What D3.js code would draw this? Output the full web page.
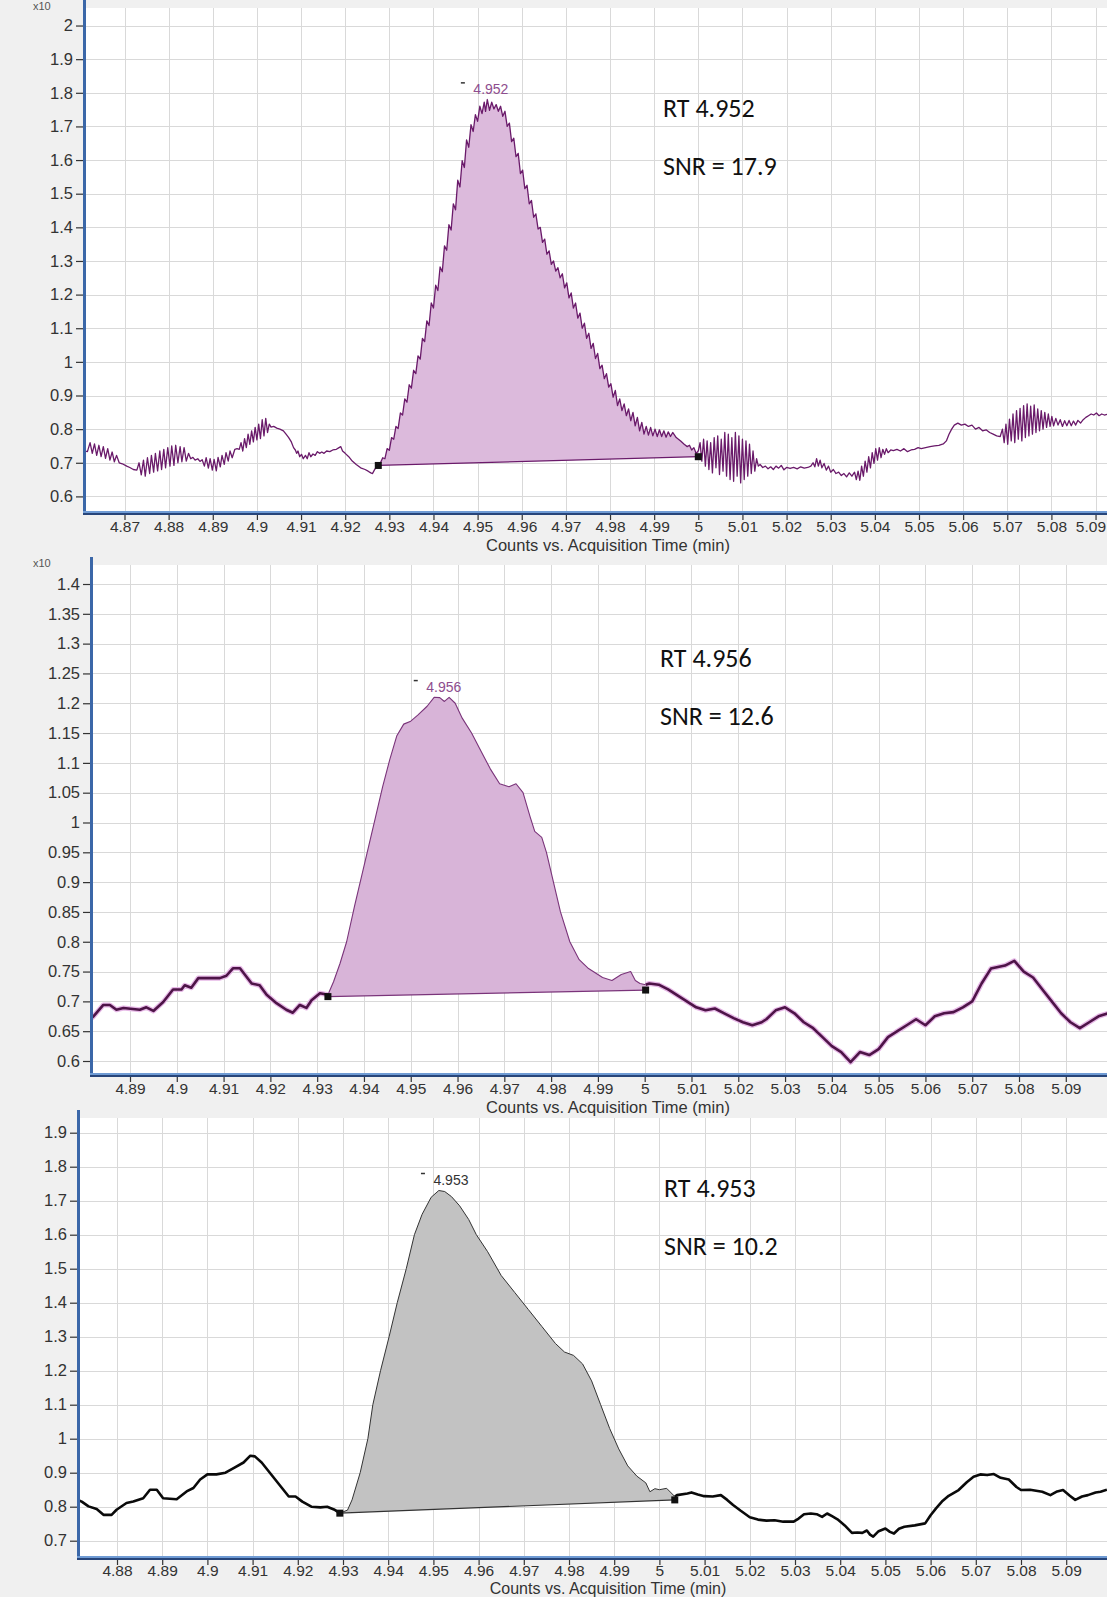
<!DOCTYPE html>
<html><head><meta charset="utf-8">
<script src="https://cdn.jsdelivr.net/npm/d3@7"></script>
<style>
body{margin:0;background:#f0f0f0;}
svg{display:block;}
</style></head>
<body><svg id="c" width="1107" height="1597"></svg>
<script>
// ---------- DATA ----------
const panel1XTicks = [4.87,4.88,4.89,4.9,4.91,4.92,4.93,4.94,4.95,4.96,4.97,4.98,4.99,5,5.01,5.02,5.03,5.04,5.05,5.06,5.07,5.08,5.09];
const panel1YTicks = [0.6,0.7,0.8,0.9,1,1.1,1.2,1.3,1.4,1.5,1.6,1.7,1.8,1.9,2];
const panel2XTicks = [4.89,4.9,4.91,4.92,4.93,4.94,4.95,4.96,4.97,4.98,4.99,5,5.01,5.02,5.03,5.04,5.05,5.06,5.07,5.08,5.09];
const panel2YTicks = [0.6,0.65,0.7,0.75,0.8,0.85,0.9,0.95,1,1.05,1.1,1.15,1.2,1.25,1.3,1.35,1.4];
const panel3XTicks = [4.88,4.89,4.9,4.91,4.92,4.93,4.94,4.95,4.96,4.97,4.98,4.99,5,5.01,5.02,5.03,5.04,5.05,5.06,5.07,5.08,5.09];
const panel3YTicks = [0.7,0.8,0.9,1,1.1,1.2,1.3,1.4,1.5,1.6,1.7,1.8,1.9];

const peakRT = ["4.952","4.956","4.953"];
const peakSNR = ["17.9","12.6","10.2"];
const peakApex = [[4.9521,1.779],[4.9562,1.2095],[4.9530,1.730]];
const baselineStart = [[4.9275,0.692],[4.9323,0.708],[4.9293,0.781]];
const baselineEnd = [[5.0000,0.718],[5.0002,0.719],[5.0034,0.820]];
const axisTitle = "Counts vs. Acquisition Time (min)";

const panel1Trace = [
[4.8610,0.735],[4.8616,0.733],[4.8622,0.760],[4.8627,0.728],[4.8632,0.756],[4.8637,0.722],[4.8642,0.752],[4.8647,0.718],[4.8652,0.748],[4.8657,0.713],[4.8662,0.742],[4.8667,0.708],[4.8672,0.732],[4.8677,0.703],[4.8682,0.722],[4.8688,0.700],[4.8695,0.697],[4.8705,0.690],[4.8712,0.686],[4.8720,0.680],[4.8728,0.678],
[4.8733,0.700],[4.8738,0.664],[4.8743,0.708],[4.8747,0.660],[4.8752,0.715],[4.8757,0.668],[4.8761,0.722],[4.8766,0.672],[4.8770,0.728],[4.8775,0.676],[4.8780,0.735],[4.8784,0.680],[4.8789,0.740],[4.8793,0.685],[4.8798,0.745],[4.8803,0.690],[4.8807,0.750],[4.8812,0.692],[4.8816,0.752],[4.8821,0.700],[4.8826,0.748],[4.8830,0.703],[4.8835,0.745],[4.8840,0.705],[4.8845,0.728],[4.8850,0.712],
[4.8855,0.716],[4.8860,0.708],[4.8866,0.712],[4.8871,0.704],[4.8876,0.709],
[4.8881,0.690],[4.8885,0.715],[4.8890,0.684],[4.8894,0.712],[4.8899,0.678],[4.8903,0.710],[4.8908,0.676],[4.8912,0.716],[4.8917,0.688],[4.8921,0.722],[4.8926,0.695],[4.8930,0.730],[4.8935,0.705],[4.8939,0.735],[4.8944,0.715],
[4.8950,0.740],[4.8955,0.742],[4.8960,0.740],[4.8964,0.760],[4.8968,0.735],[4.8972,0.772],[4.8976,0.745],[4.8980,0.785],[4.8984,0.755],[4.8988,0.795],[4.8992,0.762],[4.8996,0.805],[4.9000,0.768],[4.9004,0.815],[4.9008,0.772],[4.9012,0.828],[4.9016,0.780],[4.9020,0.832],[4.9024,0.790],[4.9028,0.815],[4.9032,0.806],[4.9038,0.808],
[4.9045,0.803],[4.9052,0.800],[4.9060,0.795],[4.9066,0.785],[4.9072,0.775],[4.9078,0.762],[4.9083,0.745],[4.9087,0.738],[4.9090,0.728],[4.9093,0.735],[4.9097,0.718],[4.9101,0.725],[4.9105,0.712],[4.9110,0.722],[4.9114,0.712],[4.9118,0.730],[4.9122,0.718],[4.9127,0.726],[4.9132,0.722],[4.9137,0.733],[4.9142,0.728],[4.9147,0.732],[4.9152,0.728],[4.9158,0.735],[4.9165,0.733],[4.9172,0.738],[4.9180,0.740],[4.9186,0.745],[4.9190,0.748],[4.9194,0.735],[4.9200,0.728],[4.9208,0.718],[4.9216,0.705],[4.9225,0.695],[4.9235,0.685],[4.9245,0.680],[4.9252,0.675],[4.9258,0.670],[4.9262,0.668],[4.9266,0.678],[4.9270,0.686],[4.9275,0.692],
[4.9280,0.700],[4.9285,0.715],[4.9290,0.712],[4.9295,0.742],[4.9300,0.737],[4.9305,0.775],[4.9310,0.770],[4.9315,0.808],[4.9320,0.802],[4.9325,0.848],[4.9330,0.842],[4.9335,0.890],[4.9340,0.880],[4.9345,0.932],[4.9350,0.922],[4.9355,0.975],[4.9360,0.965],[4.9365,1.018],[4.9370,1.008],[4.9375,1.070],[4.9380,1.060],[4.9385,1.122],[4.9390,1.108],[4.9395,1.175],[4.9400,1.160],[4.9405,1.228],[4.9410,1.212],[4.9415,1.282],[4.9420,1.268],[4.9425,1.345],[4.9430,1.332],[4.9435,1.408],[4.9440,1.392],[4.9445,1.470],[4.9450,1.452],[4.9455,1.540],[4.9460,1.520],[4.9465,1.598],[4.9470,1.578],[4.9475,1.660],[4.9480,1.638],[4.9485,1.705],[4.9490,1.685],[4.9495,1.735],[4.9500,1.715],[4.9505,1.760],[4.9510,1.738],[4.9515,1.772],[4.9518,1.745],[4.9522,1.780],[4.9527,1.748],[4.9532,1.772],[4.9537,1.752],[4.9542,1.765],[4.9547,1.745],[4.9552,1.760],[4.9557,1.730],[4.9562,1.745],[4.9567,1.700],[4.9572,1.710],[4.9577,1.655],[4.9582,1.665],[4.9587,1.610],[4.9592,1.620],[4.9597,1.560],[4.9602,1.570],[4.9607,1.515],[4.9612,1.525],[4.9617,1.470],[4.9622,1.480],[4.9627,1.430],[4.9632,1.440],[4.9637,1.395],[4.9642,1.400],[4.9647,1.355],[4.9652,1.365],[4.9657,1.320],[4.9662,1.330],[4.9667,1.290],[4.9672,1.300],[4.9677,1.270],[4.9682,1.280],[4.9687,1.250],[4.9692,1.262],[4.9697,1.220],[4.9702,1.235],[4.9707,1.190],[4.9712,1.205],[4.9717,1.160],[4.9722,1.175],[4.9727,1.130],[4.9732,1.145],[4.9737,1.100],[4.9742,1.115],[4.9747,1.070],[4.9752,1.085],[4.9757,1.040],[4.9762,1.055],[4.9767,1.010],[4.9772,1.025],[4.9777,0.980],[4.9782,0.990],[4.9787,0.950],[4.9792,0.965],[4.9797,0.925],[4.9802,0.935],[4.9807,0.895],[4.9812,0.915],[4.9817,0.870],[4.9822,0.890],[4.9827,0.855],[4.9832,0.875],[4.9837,0.840],[4.9842,0.860],[4.9847,0.825],[4.9852,0.850],[4.9857,0.810],[4.9862,0.835],[4.9867,0.795],[4.9872,0.820],[4.9877,0.785],[4.9882,0.808],[4.9887,0.782],[4.9892,0.805],[4.9897,0.780],[4.9902,0.800],[4.9907,0.778],[4.9912,0.798],[4.9917,0.778],[4.9922,0.795],[4.9927,0.776],[4.9932,0.792],[4.9937,0.778],[4.9942,0.790],[4.9950,0.775],[4.9960,0.765],[4.9968,0.755],[4.9975,0.748],[4.9980,0.752],[4.9985,0.738],[4.9990,0.745],[4.9995,0.728],[5.0000,0.735],
[5.0004,0.760],[5.0008,0.705],[5.0012,0.770],[5.0016,0.690],[5.0020,0.765],[5.0024,0.680],[5.0028,0.760],[5.0032,0.670],[5.0036,0.775],[5.0040,0.685],[5.0044,0.780],[5.0048,0.665],[5.0052,0.770],[5.0056,0.675],[5.0060,0.790],[5.0064,0.660],[5.0068,0.785],[5.0072,0.650],[5.0076,0.775],[5.0080,0.645],[5.0084,0.790],[5.0088,0.660],[5.0092,0.780],[5.0096,0.640],[5.0100,0.770],[5.0104,0.650],[5.0108,0.765],[5.0112,0.660],[5.0116,0.755],[5.0120,0.668],[5.0124,0.735],[5.0128,0.675],[5.0132,0.712],[5.0136,0.690],
[5.0140,0.695],[5.0146,0.686],[5.0152,0.690],[5.0158,0.682],[5.0164,0.688],[5.0170,0.680],[5.0176,0.690],[5.0182,0.684],[5.0188,0.692],[5.0194,0.679],[5.0200,0.686],[5.0208,0.683],[5.0216,0.686],[5.0224,0.682],[5.0232,0.688],[5.0240,0.684],[5.0248,0.686],[5.0255,0.690],
[5.0260,0.700],[5.0264,0.688],[5.0268,0.712],[5.0272,0.690],[5.0276,0.708],[5.0280,0.685],[5.0285,0.698],[5.0290,0.678],[5.0295,0.690],[5.0300,0.672],[5.0306,0.680],
[5.0312,0.668],[5.0318,0.672],[5.0324,0.662],[5.0330,0.668],[5.0336,0.658],[5.0342,0.670],[5.0348,0.660],[5.0354,0.672],[5.0358,0.650],[5.0362,0.675],[5.0366,0.648],[5.0370,0.690],
[5.0374,0.660],[5.0378,0.705],[5.0382,0.672],[5.0386,0.718],[5.0390,0.685],[5.0394,0.730],[5.0398,0.698],[5.0402,0.742],[5.0406,0.708],[5.0410,0.745],[5.0414,0.715],[5.0418,0.740],[5.0422,0.725],[5.0426,0.742],[5.0430,0.730],[5.0436,0.738],
[5.0442,0.736],[5.0450,0.740],[5.0458,0.735],[5.0466,0.742],[5.0474,0.733],[5.0482,0.738],[5.0490,0.740],[5.0498,0.745],
[5.0505,0.742],[5.0515,0.745],[5.0525,0.748],[5.0535,0.750],[5.0545,0.752],[5.0555,0.756],[5.0562,0.765],[5.0568,0.785],[5.0574,0.800],[5.0580,0.812],[5.0588,0.818],[5.0596,0.812],[5.0604,0.815],[5.0612,0.808],[5.0620,0.812],[5.0628,0.800],[5.0636,0.805],[5.0644,0.795],[5.0652,0.798],[5.0660,0.790],[5.0668,0.785],[5.0676,0.780],[5.0684,0.778],
[5.0689,0.800],[5.0693,0.760],[5.0697,0.815],[5.0701,0.755],[5.0705,0.830],[5.0709,0.765],[5.0713,0.845],[5.0717,0.760],[5.0721,0.855],[5.0725,0.770],[5.0729,0.862],[5.0733,0.765],[5.0737,0.870],[5.0741,0.775],[5.0745,0.875],[5.0749,0.780],[5.0753,0.868],[5.0757,0.785],[5.0761,0.872],[5.0765,0.790],[5.0769,0.860],[5.0773,0.795],[5.0777,0.855],[5.0781,0.800],[5.0785,0.850],[5.0789,0.805],[5.0793,0.845],[5.0797,0.808],[5.0801,0.838],[5.0805,0.810],[5.0810,0.832],[5.0815,0.812],[5.0820,0.828],[5.0825,0.808],[5.0830,0.825],[5.0835,0.810],[5.0840,0.826],[5.0845,0.810],[5.0850,0.824],[5.0855,0.812],[5.0860,0.826],[5.0866,0.818],[5.0872,0.828],[5.0878,0.835],[5.0884,0.840],[5.0890,0.845],[5.0896,0.842],[5.0902,0.848],[5.0908,0.840],[5.0914,0.845],[5.0920,0.842],[5.0926,0.844]
];

const panel2Trace = [
[4.8818,0.672],[4.8821,0.674],[4.8843,0.694],[4.8857,0.694],[4.8871,0.686],[4.8886,0.689],[4.8921,0.686],[4.8935,0.690],[4.8950,0.684],[4.8971,0.699],[4.8992,0.720],[4.9010,0.720],[4.9017,0.727],[4.9031,0.723],[4.9046,0.739],[4.9092,0.739],[4.9106,0.743],[4.9120,0.7555],[4.9135,0.7555],[4.9160,0.730],[4.9177,0.727],[4.9192,0.711],[4.9213,0.697],[4.9234,0.686],[4.9248,0.681],[4.9263,0.694],[4.9277,0.689],[4.9288,0.702],[4.9306,0.7135],[4.9323,0.711],
[4.9335,0.733],[4.9349,0.764],[4.9363,0.800],[4.9380,0.860],[4.9395,0.910],[4.9410,0.960],[4.9425,1.010],[4.9440,1.060],[4.9455,1.105],[4.9470,1.145],[4.9485,1.165],[4.9500,1.170],[4.9515,1.180],[4.9535,1.195],[4.9550,1.210],[4.9562,1.2095],[4.9572,1.203],[4.9582,1.210],[4.9595,1.200],[4.9610,1.175],[4.9630,1.150],[4.9650,1.120],[4.9670,1.090],[4.9690,1.065],[4.9710,1.060],[4.9725,1.065],[4.9740,1.050],[4.9755,1.010],[4.9765,0.985],[4.9780,0.975],[4.9790,0.950],[4.9805,0.900],[4.9820,0.850],[4.9840,0.800],[4.9860,0.770],[4.9880,0.755],[4.9910,0.740],[4.9930,0.735],[4.9950,0.745],[4.9970,0.750],[4.9980,0.735],[4.9990,0.730],[5.0002,0.728],
[5.0010,0.730],[5.0030,0.728],[5.0050,0.720],[5.0070,0.710],[5.0090,0.700],[5.0110,0.690],[5.0130,0.685],[5.0150,0.688],[5.0170,0.680],[5.0190,0.672],[5.0210,0.665],[5.0230,0.660],[5.0250,0.665],[5.0260,0.670],[5.0280,0.685],[5.0300,0.690],[5.0320,0.680],[5.0340,0.665],[5.0360,0.655],[5.0380,0.640],[5.0400,0.625],[5.0420,0.615],[5.0440,0.598],[5.0460,0.615],[5.0480,0.610],[5.0500,0.620],[5.0520,0.640],[5.0540,0.650],[5.0560,0.660],[5.0580,0.670],[5.0600,0.660],[5.0620,0.675],[5.0640,0.680],[5.0660,0.682],[5.0680,0.690],[5.0700,0.700],[5.0720,0.730],[5.0740,0.755],[5.0770,0.760],[5.0790,0.768],[5.0810,0.750],[5.0830,0.740],[5.0850,0.720],[5.0870,0.700],[5.0890,0.680],[5.0910,0.665],[5.0930,0.655],[5.0950,0.665],[5.0970,0.675],[5.0990,0.680]
];

const panel3Trace = [
[4.8716,0.818],[4.8722,0.815],[4.8737,0.801],[4.8755,0.793],[4.8770,0.776],[4.8788,0.776],[4.8799,0.791],[4.8821,0.811],[4.8836,0.815],[4.8858,0.825],[4.8873,0.850],[4.8888,0.850],[4.8902,0.825],[4.8932,0.822],[4.8954,0.845],[4.8969,0.855],[4.8984,0.880],[4.9000,0.895],[4.9020,0.895],[4.9040,0.900],[4.9060,0.915],[4.9080,0.930],[4.9095,0.950],[4.9105,0.948],[4.9120,0.930],[4.9135,0.905],[4.9150,0.880],[4.9165,0.855],[4.9180,0.830],[4.9195,0.830],[4.9210,0.815],[4.9230,0.800],[4.9250,0.798],[4.9265,0.800],[4.9280,0.792],[4.9293,0.781],
[4.9310,0.790],[4.9320,0.820],[4.9338,0.900],[4.9355,1.000],[4.9366,1.100],[4.9383,1.200],[4.9402,1.300],[4.9420,1.400],[4.9440,1.500],[4.9458,1.600],[4.9475,1.660],[4.9495,1.710],[4.9512,1.730],[4.9525,1.727],[4.9540,1.712],[4.9558,1.685],[4.9578,1.645],[4.9595,1.600],[4.9620,1.550],[4.9650,1.480],[4.9680,1.430],[4.9710,1.380],[4.9740,1.330],[4.9770,1.280],[4.9790,1.255],[4.9810,1.245],[4.9830,1.220],[4.9850,1.170],[4.9870,1.100],[4.9890,1.030],[4.9910,0.970],[4.9930,0.920],[4.9950,0.890],[4.9970,0.870],[4.9979,0.844],[4.9990,0.853],[5.0000,0.850],[5.0016,0.854],[5.0034,0.830],
[5.0039,0.834],[5.0062,0.839],[5.0071,0.842],[5.0085,0.836],[5.0099,0.831],[5.0118,0.830],[5.0136,0.834],[5.0150,0.820],[5.0163,0.805],[5.0180,0.788],[5.0200,0.769],[5.0218,0.762],[5.0237,0.759],[5.0255,0.760],[5.0274,0.756],[5.0297,0.756],[5.0308,0.765],[5.0320,0.778],[5.0335,0.780],[5.0348,0.778],[5.0360,0.770],[5.0371,0.780],[5.0382,0.772],[5.0394,0.763],[5.0410,0.745],[5.0426,0.723],[5.0438,0.724],[5.0449,0.723],[5.0459,0.730],[5.0466,0.718],[5.0473,0.712],[5.0485,0.728],[5.0500,0.736],[5.0510,0.726],[5.0519,0.721],[5.0530,0.735],[5.0542,0.741],[5.0565,0.745],[5.0588,0.751],[5.0600,0.775],[5.0612,0.795],[5.0625,0.815],[5.0640,0.832],[5.0662,0.849],[5.0680,0.872],[5.0695,0.888],[5.0710,0.895],[5.0725,0.893],[5.0740,0.896],[5.0755,0.885],[5.0773,0.880],[5.0790,0.858],[5.0800,0.849],[5.0820,0.850],[5.0847,0.844],[5.0865,0.834],[5.0880,0.845],[5.0893,0.849],[5.0908,0.832],[5.0920,0.820],[5.0935,0.830],[5.0948,0.834],[5.0965,0.842],[5.0976,0.844],[5.0990,0.850]
];

// ---------- LAYOUT / STYLE ----------
const W = 1107;
const fmt = v => String(+v.toFixed(3));
const panels = [
  { trace: panel1Trace, xTicks: panel1XTicks, yTicks: panel1YTicks,
    left: 85, top: 8, bottom: 512, annX: 663, annY: 117, titleDy: 39, titleSize: 16.5, tickPad: 1,
    xAnchor: [[4.87, 5.0], [124.5, 698.3]], yAnchor: [[0.6, 0.9], [496.4, 395.5]],
    line: "#6a1a6a", lineW: 1.3, peakW: 1.3, halo: null, fill: "#dcbadc", peakLine: "#6a1a6a",
    label: "#8e4d8e", x10: true },
  { trace: panel2Trace, xTicks: panel2XTicks, yTicks: panel2YTicks,
    left: 92, top: 565, bottom: 1074, annX: 660, annY: 667, titleDy: 39, titleSize: 16.5, tickPad: 1,
    xAnchor: [[4.99, 5.09], [597.9, 1065.8]], yAnchor: [[0.6, 1.4], [1061, 584]],
    line: "#4e1448", lineW: 2.6, peakW: 1.1, halo: "#e6b8e6", fill: "#d8b4d8", peakLine: "#7a347a",
    label: "#8e4d8e", x10: true },
  { trace: panel3Trace, xTicks: panel3XTicks, yTicks: panel3YTicks,
    left: 79, top: 1118, bottom: 1557, annX: 664, annY: 1197, titleDy: 37, titleSize: 16, tickPad: 0,
    xAnchor: [[4.88, 5.09], [117, 1066.2]], yAnchor: [[0.7, 1.9], [1540.7, 1132.7]],
    line: "#0a0a0a", lineW: 2.6, peakW: 1.0, halo: null, fill: "#c2c2c2", peakLine: "#333333",
    label: "#333333", x10: false }
];

const svg = d3.select("#c");
svg.append("rect").attr("width", W).attr("height", 1597).attr("fill", "#f0f0f0");
const FONT = "Liberation Sans, Arial, sans-serif";

panels.forEach((p, i) => {
  const x = d3.scaleLinear().domain(p.xAnchor[0]).range(p.xAnchor[1]);
  const y = d3.scaleLinear().domain(p.yAnchor[0]).range(p.yAnchor[1]);
  const g = svg.append("g");
  const clipId = "clip" + i;
  svg.append("clipPath").attr("id", clipId).append("rect")
    .attr("x", p.left).attr("y", p.top).attr("width", W - p.left).attr("height", p.bottom - p.top);

  g.append("rect").attr("x", p.left).attr("y", p.top).attr("width", W - p.left)
    .attr("height", p.bottom - p.top).attr("fill", "#ffffff");

  g.append("g").selectAll("line").data(p.xTicks).join("line")
    .attr("x1", d => Math.round(x(d)) + 0.5).attr("x2", d => Math.round(x(d)) + 0.5)
    .attr("y1", p.top).attr("y2", p.bottom).attr("stroke", "#d9d9d9").attr("stroke-width", 1);
  g.append("g").selectAll("line").data(p.yTicks).join("line")
    .attr("y1", d => Math.round(y(d)) + 0.5).attr("y2", d => Math.round(y(d)) + 0.5)
    .attr("x1", p.left).attr("x2", W).attr("stroke", "#d9d9d9").attr("stroke-width", 1);

  const plot = g.append("g").attr("clip-path", `url(#${clipId})`);
  const bs = baselineStart[i], be = baselineEnd[i];
  const baseAt = t => bs[1] + (be[1] - bs[1]) * (t - bs[0]) / (be[0] - bs[0]);
  const peakPts = p.trace.filter(d => d[0] >= bs[0] && d[0] <= be[0]);
  const before = p.trace.filter(d => d[0] <= bs[0]);
  const after = p.trace.filter(d => d[0] >= be[0]);

  const area = d3.area().x(d => x(d[0])).y1(d => y(d[1])).y0(d => y(baseAt(d[0])));
  plot.append("path").datum(peakPts).attr("d", area).attr("fill", p.fill);

  const line = d3.line().x(d => x(d[0])).y(d => y(d[1]));
  plot.append("line").attr("x1", x(bs[0])).attr("y1", y(bs[1])).attr("x2", x(be[0])).attr("y2", y(be[1]))
    .attr("stroke", p.peakLine).attr("stroke-width", 1.2);
  plot.append("path").datum(peakPts).attr("d", line).attr("fill", "none")
    .attr("stroke", p.peakLine).attr("stroke-width", p.peakW).attr("stroke-linejoin", "round");
  [before, after].forEach(seg => {
    if (p.halo) plot.append("path").datum(seg).attr("d", line).attr("fill", "none")
      .attr("stroke", p.halo).attr("stroke-width", p.lineW + 2.5).attr("stroke-linejoin", "round");
    plot.append("path").datum(seg).attr("d", line).attr("fill", "none")
      .attr("stroke", p.line).attr("stroke-width", p.lineW).attr("stroke-linejoin", "round");
  });
  [bs, be].forEach(m => {
    plot.append("rect").attr("x", x(m[0]) - 3.5).attr("y", y(m[1]) - 3.5)
      .attr("width", 7).attr("height", 7).attr("fill", "#111");
  });

  const ap = peakApex[i];
  plot.append("text").attr("x", x(ap[0]) + 4).attr("y", y(ap[1]) - 6)
    .attr("text-anchor", "middle").attr("font-family", FONT)
    .attr("font-size", 14).attr("fill", p.label).text(peakRT[i]);
  plot.append("line").attr("x1", x(ap[0]) - 26).attr("x2", x(ap[0]) - 22)
    .attr("y1", y(ap[1]) - 17).attr("y2", y(ap[1]) - 17).attr("stroke", "#333").attr("stroke-width", 1.5);

  const ann = g.append("g").attr("font-family", "Carlito, Lato, 'Open Sans', sans-serif")
    .attr("font-size", 26).attr("fill", "#111");
  ann.append("text").attr("x", p.annX).attr("y", p.annY).text("RT " + peakRT[i]);
  ann.append("text").attr("x", p.annX).attr("y", p.annY + 58).text("SNR = " + peakSNR[i]);

  const yAxis = d3.axisLeft(y).tickValues(p.yTicks).tickFormat(fmt).tickSize(7).tickPadding(3);
  const ya = g.append("g").attr("transform", `translate(${p.left - 2},0)`).call(yAxis);
  const xAxis = d3.axisBottom(x).tickValues(p.xTicks).tickFormat(fmt).tickSize(6).tickPadding(p.tickPad);
  const xa = g.append("g").attr("transform", `translate(0,${p.bottom + 2})`).call(xAxis);
  [ya, xa].forEach(a => {
    a.select(".domain").remove();
    a.selectAll(".tick line").attr("stroke", "#333").attr("stroke-width", 1.2);
  });
  ya.selectAll(".tick text").attr("fill", "#333").attr("font-size", 16.5).attr("font-family", FONT);
  xa.selectAll(".tick text").attr("fill", "#333").attr("font-size", 15.5).attr("font-family", FONT);
  // keep the last label inside the picture
  xa.selectAll(".tick text").each(function () {
    const b = this.getBBox(), m = this.parentNode.transform.baseVal.consolidate().matrix.e;
    const over = m + b.x + b.width - (W - 1);
    if (over > 0) d3.select(this).attr("x", -over);
  });

  g.append("rect").attr("x", p.left - 2).attr("y", p.top - 8).attr("width", 3)
    .attr("height", p.bottom - p.top + 10).attr("fill", "#3b67a8");
  g.append("rect").attr("x", p.left - 2).attr("y", p.bottom - 1).attr("width", W - p.left + 2)
    .attr("height", 2).attr("fill", "#6f9bd4");
  g.append("rect").attr("x", p.left - 2).attr("y", p.bottom + 1).attr("width", W - p.left + 2)
    .attr("height", 2).attr("fill", "#27457a");

  g.append("text").attr("x", 608).attr("y", p.bottom + p.titleDy).attr("text-anchor", "middle")
    .attr("font-family", FONT).attr("font-size", p.titleSize)
    .attr("fill", "#333").text(axisTitle);

  if (p.x10) {
    g.append("text").attr("x", 33).attr("y", p.top + 2).attr("font-family", FONT)
      .attr("font-size", 11).attr("fill", "#555").text("x10");
  }
});
</script>
</body></html>
